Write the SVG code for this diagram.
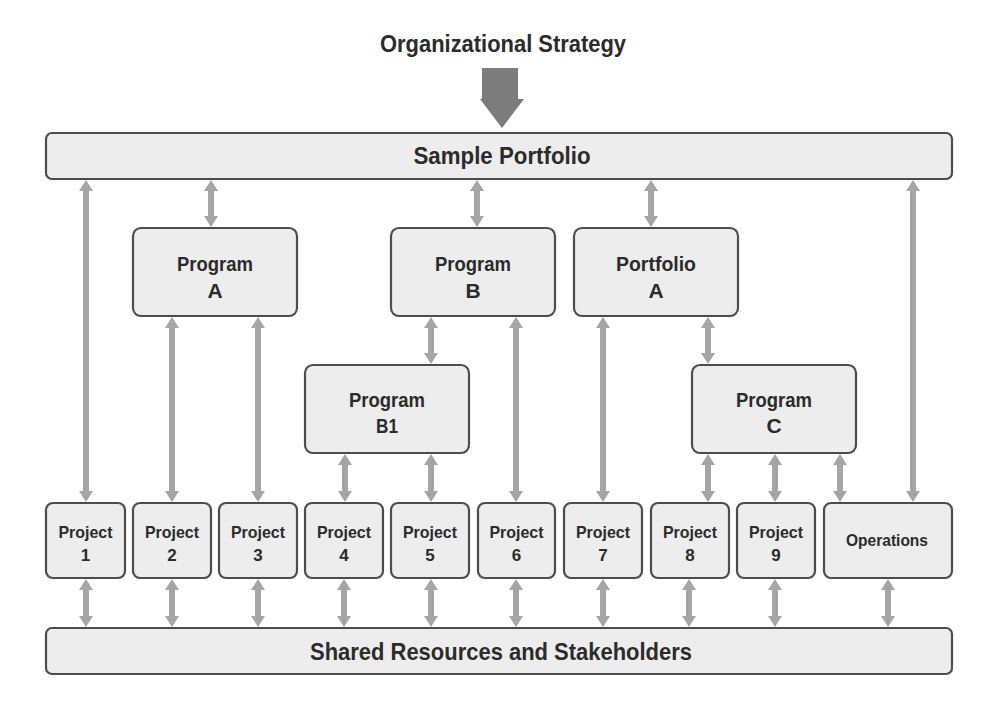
<svg xmlns="http://www.w3.org/2000/svg" width="1007" height="714" viewBox="0 0 1007 714">
<style>
.box{fill:#ededed;stroke:#4d4d4d;stroke-width:2.2}
.t{font-family:"Liberation Sans",Arial,sans-serif;font-weight:bold;fill:#2b2b2b;text-anchor:middle}
.big{font-size:24px}
.mid{font-size:21px}
.sm{font-size:17px}
.c{stroke:#a5a5a5;stroke-width:6;marker-start:url(#h);marker-end:url(#h);fill:none}
</style>
<defs>
<marker id="h" markerUnits="userSpaceOnUse" markerWidth="12" markerHeight="16" refX="0" refY="8" orient="auto-start-reverse" overflow="visible">
<path d="M0,1 L11,8 L0,15 Z" fill="#a5a5a5"/>
</marker>
</defs>
<rect width="1007" height="714" fill="#ffffff"/>
<g id="title">
<text class="t big" x="503" y="52" textLength="246" lengthAdjust="spacingAndGlyphs">Organizational Strategy</text>
<path d="M482,68 H518 V99 H524 L502,128 L480,99 H482 Z" fill="#7c7c7c"/>
</g>
<g id="sample-portfolio">
<rect class="box" x="46" y="133" width="906" height="46" rx="6"/>
<text class="t big" x="502" y="164" textLength="177" lengthAdjust="spacingAndGlyphs">Sample Portfolio</text>
</g>
<g id="shared">
<rect class="box" x="46" y="628" width="906" height="46" rx="6"/>
<text class="t big" x="501" y="660" textLength="382" lengthAdjust="spacingAndGlyphs">Shared Resources and Stakeholders</text>
</g>
<g id="program-a">
<rect class="box" x="133" y="228" width="164" height="88" rx="8"/>
<text class="t mid" x="215" y="271" textLength="76" lengthAdjust="spacingAndGlyphs">Program</text>
<text class="t mid" x="215" y="298">A</text>
</g>
<g id="program-b">
<rect class="box" x="391" y="228" width="164" height="88" rx="8"/>
<text class="t mid" x="473" y="271" textLength="76" lengthAdjust="spacingAndGlyphs">Program</text>
<text class="t mid" x="473" y="298">B</text>
</g>
<g id="portfolio-a">
<rect class="box" x="574" y="228" width="164" height="88" rx="8"/>
<text class="t mid" x="656" y="271" textLength="80" lengthAdjust="spacingAndGlyphs">Portfolio</text>
<text class="t mid" x="656" y="298">A</text>
</g>
<g id="program-b1">
<rect class="box" x="305" y="365" width="164" height="88" rx="8"/>
<text class="t mid" x="387" y="407" textLength="76" lengthAdjust="spacingAndGlyphs">Program</text>
<text class="t mid" x="387" y="433" textLength="22" lengthAdjust="spacingAndGlyphs">B1</text>
</g>
<g id="program-c">
<rect class="box" x="692" y="365" width="164" height="88" rx="8"/>
<text class="t mid" x="774" y="407" textLength="76" lengthAdjust="spacingAndGlyphs">Program</text>
<text class="t mid" x="774" y="433">C</text>
</g>
<g id="project-1"><rect class="box" x="46" y="503" width="79" height="75" rx="7"/><text class="t sm" x="85.5" y="538" textLength="54" lengthAdjust="spacingAndGlyphs">Project</text><text class="t sm" x="85.5" y="561">1</text></g>
<g id="project-2"><rect class="box" x="133" y="503" width="78" height="75" rx="7"/><text class="t sm" x="172" y="538" textLength="54" lengthAdjust="spacingAndGlyphs">Project</text><text class="t sm" x="172" y="561">2</text></g>
<g id="project-3"><rect class="box" x="219" y="503" width="78" height="75" rx="7"/><text class="t sm" x="258" y="538" textLength="54" lengthAdjust="spacingAndGlyphs">Project</text><text class="t sm" x="258" y="561">3</text></g>
<g id="project-4"><rect class="box" x="305" y="503" width="78" height="75" rx="7"/><text class="t sm" x="344" y="538" textLength="54" lengthAdjust="spacingAndGlyphs">Project</text><text class="t sm" x="344" y="561">4</text></g>
<g id="project-5"><rect class="box" x="391" y="503" width="78" height="75" rx="7"/><text class="t sm" x="430" y="538" textLength="54" lengthAdjust="spacingAndGlyphs">Project</text><text class="t sm" x="430" y="561">5</text></g>
<g id="project-6"><rect class="box" x="478" y="503" width="77" height="75" rx="7"/><text class="t sm" x="516.5" y="538" textLength="54" lengthAdjust="spacingAndGlyphs">Project</text><text class="t sm" x="516.5" y="561">6</text></g>
<g id="project-7"><rect class="box" x="564" y="503" width="78" height="75" rx="7"/><text class="t sm" x="603" y="538" textLength="54" lengthAdjust="spacingAndGlyphs">Project</text><text class="t sm" x="603" y="561">7</text></g>
<g id="project-8"><rect class="box" x="651" y="503" width="78" height="75" rx="7"/><text class="t sm" x="690" y="538" textLength="54" lengthAdjust="spacingAndGlyphs">Project</text><text class="t sm" x="690" y="561">8</text></g>
<g id="project-9"><rect class="box" x="737" y="503" width="78" height="75" rx="7"/><text class="t sm" x="776" y="538" textLength="54" lengthAdjust="spacingAndGlyphs">Project</text><text class="t sm" x="776" y="561">9</text></g>
<g id="operations"><rect class="box" x="824" y="503" width="128" height="75" rx="7"/><text class="t sm" x="887" y="546" textLength="82" lengthAdjust="spacingAndGlyphs">Operations</text></g>
<g id="connectors">
<line class="c" x1="86" y1="191" x2="86" y2="491"/>
<line class="c" x1="211" y1="191" x2="211" y2="216"/>
<line class="c" x1="477" y1="191" x2="477" y2="216"/>
<line class="c" x1="651" y1="191" x2="651" y2="216"/>
<line class="c" x1="913" y1="191" x2="913" y2="491"/>
<line class="c" x1="172" y1="328" x2="172" y2="491"/>
<line class="c" x1="258" y1="328" x2="258" y2="491"/>
<line class="c" x1="431" y1="328" x2="431" y2="353"/>
<line class="c" x1="516" y1="328" x2="516" y2="491"/>
<line class="c" x1="603" y1="328" x2="603" y2="491"/>
<line class="c" x1="708" y1="328" x2="708" y2="353"/>
<line class="c" x1="345" y1="465" x2="345" y2="491"/>
<line class="c" x1="431" y1="465" x2="431" y2="491"/>
<line class="c" x1="708" y1="465" x2="708" y2="491"/>
<line class="c" x1="775" y1="465" x2="775" y2="491"/>
<line class="c" x1="840" y1="465" x2="840" y2="491"/>
<line class="c" x1="86" y1="590" x2="86" y2="616"/>
<line class="c" x1="172" y1="590" x2="172" y2="616"/>
<line class="c" x1="258" y1="590" x2="258" y2="616"/>
<line class="c" x1="344" y1="590" x2="344" y2="616"/>
<line class="c" x1="431" y1="590" x2="431" y2="616"/>
<line class="c" x1="516" y1="590" x2="516" y2="616"/>
<line class="c" x1="603" y1="590" x2="603" y2="616"/>
<line class="c" x1="689" y1="590" x2="689" y2="616"/>
<line class="c" x1="775" y1="590" x2="775" y2="616"/>
<line class="c" x1="888" y1="590" x2="888" y2="616"/>
</g>
</svg>
